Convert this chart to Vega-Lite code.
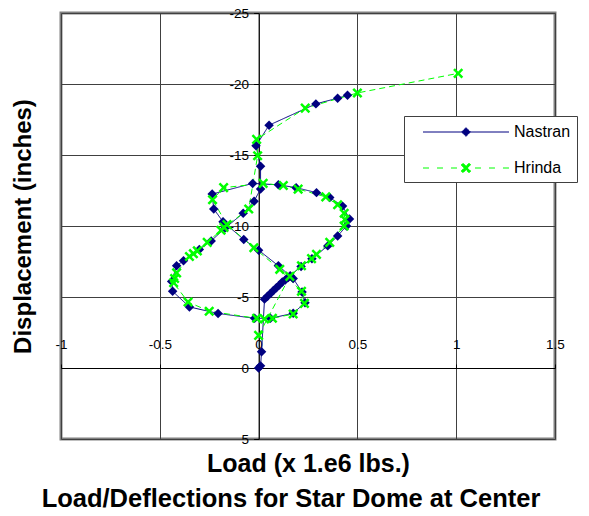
{
  "$schema": "https://vega.github.io/schema/vega-lite/v6.json",
  "width": 494,
  "height": 426,
  "autosize": {"type": "none"},
  "padding": {"left": 61, "top": 13, "right": 34, "bottom": 77},
  "background": "white",
  "config": {
    "font": "Liberation Sans",
    "view": {"stroke": "#808080", "strokeWidth": 3},
    "axis": {"labelFont": "Liberation Sans", "titleFont": "Liberation Sans", "labelColor": "black", "titleColor": "black"}
  },
  "title": {"text": "Load/Deflections for Star Dome at Center", "orient": "bottom", "font": "Liberation Sans", "fontSize": 25.5, "fontWeight": "bold", "color": "black", "offset": 11, "anchor": "middle", "dx": -17},
  "datasets": {
    "pts": [
      {"s": "Nastran", "i": 0, "x": 0.0, "y": 0.0},
      {"s": "Nastran", "i": 1, "x": 0.01, "y": -0.15},
      {"s": "Nastran", "i": 2, "x": 0.015, "y": -1.15},
      {"s": "Nastran", "i": 3, "x": 0.03, "y": -4.85},
      {"s": "Nastran", "i": 4, "x": 0.045, "y": -5.05},
      {"s": "Nastran", "i": 5, "x": 0.06, "y": -5.25},
      {"s": "Nastran", "i": 6, "x": 0.075, "y": -5.45},
      {"s": "Nastran", "i": 7, "x": 0.09, "y": -5.65},
      {"s": "Nastran", "i": 8, "x": 0.105, "y": -5.85},
      {"s": "Nastran", "i": 9, "x": 0.12, "y": -6.05},
      {"s": "Nastran", "i": 10, "x": 0.135, "y": -6.2},
      {"s": "Nastran", "i": 11, "x": 0.15, "y": -6.38},
      {"s": "Nastran", "i": 12, "x": 0.16, "y": -6.5},
      {"s": "Nastran", "i": 13, "x": 0.215, "y": -7.15},
      {"s": "Nastran", "i": 14, "x": 0.27, "y": -7.7},
      {"s": "Nastran", "i": 15, "x": 0.35, "y": -8.6},
      {"s": "Nastran", "i": 16, "x": 0.4, "y": -9.3},
      {"s": "Nastran", "i": 17, "x": 0.445, "y": -10.0},
      {"s": "Nastran", "i": 18, "x": 0.46, "y": -10.5},
      {"s": "Nastran", "i": 19, "x": 0.425, "y": -11.4},
      {"s": "Nastran", "i": 20, "x": 0.36, "y": -12.0},
      {"s": "Nastran", "i": 21, "x": 0.293, "y": -12.35},
      {"s": "Nastran", "i": 22, "x": 0.19, "y": -12.7},
      {"s": "Nastran", "i": 23, "x": 0.1, "y": -12.9},
      {"s": "Nastran", "i": 24, "x": -0.03, "y": -13.0},
      {"s": "Nastran", "i": 25, "x": -0.235, "y": -12.25},
      {"s": "Nastran", "i": 26, "x": -0.227, "y": -11.2},
      {"s": "Nastran", "i": 27, "x": -0.18, "y": -10.3},
      {"s": "Nastran", "i": 28, "x": -0.075, "y": -9.05},
      {"s": "Nastran", "i": 29, "x": 0.0, "y": -8.3},
      {"s": "Nastran", "i": 30, "x": 0.1, "y": -7.2},
      {"s": "Nastran", "i": 31, "x": 0.175, "y": -6.3},
      {"s": "Nastran", "i": 32, "x": 0.22, "y": -5.35},
      {"s": "Nastran", "i": 33, "x": 0.235, "y": -4.6},
      {"s": "Nastran", "i": 34, "x": 0.175, "y": -3.85},
      {"s": "Nastran", "i": 35, "x": 0.06, "y": -3.5},
      {"s": "Nastran", "i": 36, "x": -0.02, "y": -3.5},
      {"s": "Nastran", "i": 37, "x": -0.205, "y": -3.84},
      {"s": "Nastran", "i": 38, "x": -0.35, "y": -4.3},
      {"s": "Nastran", "i": 39, "x": -0.435, "y": -5.4},
      {"s": "Nastran", "i": 40, "x": -0.44, "y": -6.1},
      {"s": "Nastran", "i": 41, "x": -0.415, "y": -7.2},
      {"s": "Nastran", "i": 42, "x": -0.38, "y": -7.55},
      {"s": "Nastran", "i": 43, "x": -0.3, "y": -8.35},
      {"s": "Nastran", "i": 44, "x": -0.24, "y": -8.95},
      {"s": "Nastran", "i": 45, "x": -0.17, "y": -9.85},
      {"s": "Nastran", "i": 46, "x": -0.078, "y": -10.9},
      {"s": "Nastran", "i": 47, "x": -0.023, "y": -11.75},
      {"s": "Nastran", "i": 48, "x": 0.01, "y": -12.6},
      {"s": "Nastran", "i": 49, "x": 0.01, "y": -14.2},
      {"s": "Nastran", "i": 50, "x": -0.013, "y": -15.65},
      {"s": "Nastran", "i": 51, "x": 0.053, "y": -17.1},
      {"s": "Nastran", "i": 52, "x": 0.29, "y": -18.6},
      {"s": "Nastran", "i": 53, "x": 0.4, "y": -19.0},
      {"s": "Nastran", "i": 54, "x": 0.45, "y": -19.2},
      {"s": "Hrinda", "i": 0, "x": 0.0, "y": -2.3},
      {"s": "Hrinda", "i": 1, "x": 0.158, "y": -6.45},
      {"s": "Hrinda", "i": 2, "x": 0.217, "y": -7.2},
      {"s": "Hrinda", "i": 3, "x": 0.268, "y": -7.7},
      {"s": "Hrinda", "i": 4, "x": 0.293, "y": -8.0},
      {"s": "Hrinda", "i": 5, "x": 0.36, "y": -8.85},
      {"s": "Hrinda", "i": 6, "x": 0.433, "y": -10.0},
      {"s": "Hrinda", "i": 7, "x": 0.437, "y": -10.46},
      {"s": "Hrinda", "i": 8, "x": 0.433, "y": -10.9},
      {"s": "Hrinda", "i": 9, "x": 0.4, "y": -11.5},
      {"s": "Hrinda", "i": 10, "x": 0.34, "y": -12.05},
      {"s": "Hrinda", "i": 11, "x": 0.2, "y": -12.6},
      {"s": "Hrinda", "i": 12, "x": 0.125, "y": -12.85},
      {"s": "Hrinda", "i": 13, "x": 0.023, "y": -13.0},
      {"s": "Hrinda", "i": 14, "x": -0.177, "y": -12.7},
      {"s": "Hrinda", "i": 15, "x": -0.233, "y": -11.85},
      {"s": "Hrinda", "i": 16, "x": -0.16, "y": -10.1},
      {"s": "Hrinda", "i": 17, "x": -0.024, "y": -8.47},
      {"s": "Hrinda", "i": 18, "x": 0.107, "y": -6.95},
      {"s": "Hrinda", "i": 19, "x": 0.217, "y": -5.4},
      {"s": "Hrinda", "i": 20, "x": 0.232, "y": -4.55},
      {"s": "Hrinda", "i": 21, "x": 0.175, "y": -3.8},
      {"s": "Hrinda", "i": 22, "x": 0.07, "y": -3.5},
      {"s": "Hrinda", "i": 23, "x": 0.03, "y": -3.45},
      {"s": "Hrinda", "i": 24, "x": -0.01, "y": -3.5},
      {"s": "Hrinda", "i": 25, "x": -0.25, "y": -4.0},
      {"s": "Hrinda", "i": 26, "x": -0.357, "y": -4.65},
      {"s": "Hrinda", "i": 27, "x": -0.43, "y": -6.0},
      {"s": "Hrinda", "i": 28, "x": -0.425, "y": -6.3},
      {"s": "Hrinda", "i": 29, "x": -0.415, "y": -6.7},
      {"s": "Hrinda", "i": 30, "x": -0.35, "y": -7.85},
      {"s": "Hrinda", "i": 31, "x": -0.33, "y": -8.05},
      {"s": "Hrinda", "i": 32, "x": -0.31, "y": -8.25},
      {"s": "Hrinda", "i": 33, "x": -0.26, "y": -8.85},
      {"s": "Hrinda", "i": 34, "x": -0.19, "y": -9.7},
      {"s": "Hrinda", "i": 35, "x": -0.175, "y": -9.9},
      {"s": "Hrinda", "i": 36, "x": -0.05, "y": -11.2},
      {"s": "Hrinda", "i": 37, "x": -0.005, "y": -14.95},
      {"s": "Hrinda", "i": 38, "x": -0.01, "y": -16.1},
      {"s": "Hrinda", "i": 39, "x": 0.236, "y": -18.3},
      {"s": "Hrinda", "i": 40, "x": 0.5, "y": -19.37},
      {"s": "Hrinda", "i": 41, "x": 1.01, "y": -20.75}
    ]
  },
  "data": {"name": "pts"},
  "layer": [
    {
      "mark": {"type": "line", "strokeWidth": 1},
      "encoding": {
        "x": {"field": "x", "type": "quantitative", "scale": {"domain": [-1, 1.5], "nice": false, "zero": false},
          "axis": {"orient": "bottom", "values": [-1, -0.5, 0, 0.5, 1, 1.5], "grid": true, "gridColor": "#404040", "gridWidth": 1, "gridOpacity": 1, "domain": false, "ticks": false, "labels": false,
            "title": "Load (x 1.e6 lbs.)", "titleFontSize": 25, "titleFontWeight": "bold", "titlePadding": 12, "titleColor": "black"}},
        "y": {"field": "y", "type": "quantitative", "scale": {"domain": [-25, 5], "nice": false, "zero": false, "reverse": true},
          "axis": {"orient": "left", "values": [-25, -20, -15, -10, -5, 0, 5], "grid": true, "gridColor": "#404040", "gridWidth": 1, "gridOpacity": 1, "domain": false, "ticks": false, "labels": false,
            "title": "Displacement (inches)", "titleFontSize": 24, "titleFontWeight": "bold", "titlePadding": 26, "titleColor": "black"}},
        "color": {"field": "s", "type": "nominal", "scale": {"domain": ["Nastran", "Hrinda"], "range": ["#000080", "#00ff00"]},
          "legend": {
            "orient": "none", "legendX": 343, "legendY": 103, "title": null, "direction": "vertical",
            "fillColor": "white", "strokeColor": "#404040", "padding": 6, "rowPadding": 18,
            "symbolSize": 100,
            "labelFont": "Liberation Sans", "labelFontSize": 16, "labelColor": "black", "labelLimit": 400,
            "labelExpr": "datum.label + '\u00a0\u00a0\u00a0\u00a0\u00a0\u00a0\u00a0\u00a0\u00a0\u00a0\u00a0\u00a0'",
            "encode": {
              "symbols": {"update": {
                "x": {"value": 56},
                "y": {"value": 10},
                "size": {"value": 7396},
                "shape": {"signal": "datum.value === 'Nastran' ? 'M-1,0H1M0,-0.1L0.1,0L0,0.1L-0.1,0Z' : 'M-1,0H-0.86M-0.674,0H-0.535M-0.349,0H-0.209M0.209,0H0.349M0.535,0H0.674M0.86,0H1M-0.07,-0.11L0.11,0.07L0.07,0.11L-0.11,-0.07ZM-0.07,0.11L-0.11,0.07L0.07,-0.11L0.11,-0.07Z'"},
                "fill": {"signal": "datum.value === 'Nastran' ? '#000080' : '#00ff00'"},
                "stroke": {"signal": "datum.value === 'Nastran' ? '#000080' : '#00ff00'"},
                "strokeWidth": {"value": 1},
                "strokeDash": {"value": []},
                "opacity": {"value": 1},
                "fillOpacity": {"value": 1}
              }},
              "labels": {"update": {
                "x": {"value": 104},
                "y": {"value": 10}
              }}
            }
          }},
        "strokeDash": {"field": "s", "type": "nominal", "scale": {"domain": ["Nastran", "Hrinda"], "range": [[1, 0], [6, 4]]}, "legend": null},
        "order": {"field": "i", "type": "quantitative"}
      }
    },
    {
      "transform": [{"filter": "datum.s === 'Nastran'"}],
      "mark": {"type": "point", "shape": "diamond", "filled": true, "size": 90, "color": "#000080", "opacity": 1},
      "encoding": {
        "x": {"field": "x", "type": "quantitative", "scale": {"domain": [-1, 1.5], "nice": false, "zero": false},
          "axis": {"orient": "top", "offset": -355, "values": [-1, -0.5, 0, 0.5, 1, 1.5], "grid": false, "domain": true, "domainColor": "black", "domainWidth": 1, "ticks": true, "tickColor": "black", "tickSize": 4, "labels": true, "labelFontSize": 13.5, "labelPadding": 13, "labelFlush": false, "labelOverlap": false, "labelExpr": "datum.value + ''", "title": null}},
        "y": {"field": "y", "type": "quantitative", "scale": {"domain": [-25, 5], "nice": false, "zero": false, "reverse": true},
          "axis": {"orient": "left", "offset": -197.6, "values": [-25, -20, -15, -10, -5, 0, 5], "grid": false, "domain": true, "domainColor": "black", "domainWidth": 1, "ticks": true, "tickColor": "black", "tickSize": 5, "labels": true, "labelFontSize": 13.5, "labelPadding": 5, "labelFlush": false, "labelOverlap": false, "labelExpr": "datum.value + ''", "title": null}}
      }
    },
    {
      "transform": [{"filter": "datum.s === 'Hrinda'"}],
      "mark": {"type": "point", "shape": "M-1,-1L1,1M-1,1L1,-1", "filled": false, "size": 70, "stroke": "#00ff00", "strokeWidth": 2.5, "opacity": 1},
      "encoding": {
        "x": {"field": "x", "type": "quantitative", "scale": {"domain": [-1, 1.5], "nice": false, "zero": false}, "axis": null},
        "y": {"field": "y", "type": "quantitative", "scale": {"domain": [-25, 5], "nice": false, "zero": false, "reverse": true}, "axis": null}
      }
    }
  ],
  "resolve": {"axis": {"x": "independent", "y": "independent"}}
}
